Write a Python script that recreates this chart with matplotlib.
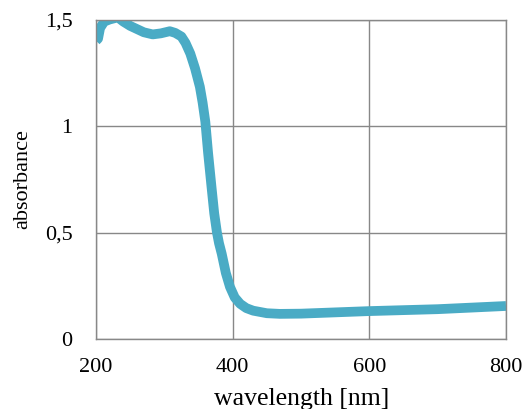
import matplotlib
matplotlib.use("Agg")
import matplotlib.pyplot as plt
from matplotlib.ticker import FixedLocator, FixedFormatter

wavelength = [200, 203, 206, 212, 220, 232, 240, 250, 260, 270, 283, 295, 308, 316, 325,
              331, 338, 345, 352, 356, 360, 364, 369, 373, 377, 380, 384, 390, 396, 403, 411,
              420, 430, 450, 469, 500, 550, 600, 700, 800]
absorbance = [1.40, 1.41, 1.46, 1.49, 1.50, 1.51, 1.49, 1.47, 1.455, 1.44, 1.43, 1.435, 1.445, 1.437, 1.42,
              1.39, 1.34, 1.27, 1.184, 1.11, 1.02, 0.875, 0.715, 0.59, 0.50, 0.45, 0.40, 0.31, 0.245, 0.195, 0.165,
              0.145, 0.133, 0.121, 0.118, 0.119, 0.125, 0.131, 0.14, 0.155]

xticks = [200, 400, 600, 800]
yticks = [0, 0.5, 1, 1.5]
ytick_labels = ["0", "0,5", "1", "1,5"]

plt.rcParams['font.family'] = ['Liberation Serif', 'DejaVu Serif']

fig = plt.figure(figsize=(5.28, 4.09), dpi=100)
ax = fig.add_axes([96/528, 70/409, 410/528, 319.5/409])
ax.plot(wavelength, absorbance, color='#4AABC5', lw=7, solid_capstyle='butt',
        solid_joinstyle='round')
ax.set_xlim(200, 800)
ax.set_ylim(0, 1.5)
ax.set_xticks(xticks)
ax.yaxis.set_major_locator(FixedLocator(yticks))
ax.yaxis.set_major_formatter(FixedFormatter(ytick_labels))
ax.grid(True, color='#888888', lw=1)
for s in ax.spines.values():
    s.set_color('#888888')
    s.set_linewidth(1)
ax.tick_params(length=0, labelsize=16, colors='black')
ax.tick_params(axis='x', pad=14)
ax.tick_params(axis='y', pad=17)
ax.set_ylabel('absorbance', fontsize=16, labelpad=9)
fig.text(302/528, 4/409, 'wavelength [nm]', fontsize=18.5, ha='center', va='baseline')
fig.savefig('out.png', dpi=100)
